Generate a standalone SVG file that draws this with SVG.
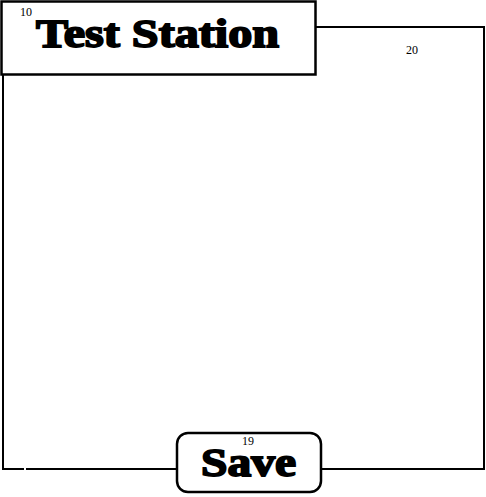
<svg xmlns="http://www.w3.org/2000/svg" width="486" height="497" viewBox="0 0 486 497">
<style>
.box{fill:#fff;stroke:#000;stroke-width:2.5}
.conn{fill:none;stroke:#000;stroke-width:2}
.big{font-family:"Liberation Serif",serif;font-weight:bold;font-size:40px;fill:#000;stroke:#000;stroke-width:1.8}
.num{font-family:"Liberation Serif",serif;font-size:12px;fill:#000}
</style>
<rect width="486" height="497" fill="#fff"/>
<g id="connectors">
<polyline class="conn" points="316,27 484,27 484,469 321,469"/>
<polyline class="conn" points="177,469 26,469"/>
<polyline class="conn" points="24,469 3,469 3,75"/>
</g>
<g id="node-20">
<text class="num" x="406" y="54">20</text>
</g>
<g id="node-10">
<rect class="box" x="1.5" y="1.5" width="314" height="73"/>
<text class="num" x="20" y="16">10</text>
<text class="big" x="36" y="47" textLength="243" lengthAdjust="spacingAndGlyphs">Test Station</text>
</g>
<g id="node-19">
<rect class="box" x="177" y="433" width="144" height="59" rx="11"/>
<text class="num" x="242" y="445">19</text>
<text class="big" x="201" y="476" textLength="95" lengthAdjust="spacingAndGlyphs">Save</text>
</g>
</svg>
